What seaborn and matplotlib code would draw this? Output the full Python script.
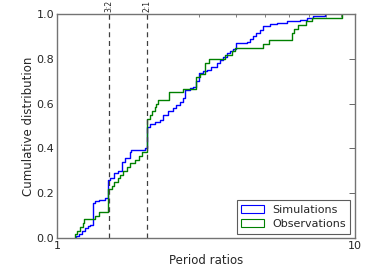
import numpy as np
import matplotlib
matplotlib.use("Agg")
import matplotlib.pyplot as plt
from matplotlib.patches import Patch
from matplotlib.ticker import NullFormatter
import seaborn as sns

# period ratios, with how many systems sit at each value
sim_ratio = [1.16, 1.19, 1.21, 1.24, 1.27, 1.29, 1.32, 1.34, 1.39, 1.45,
             1.49, 1.51, 1.55, 1.61, 1.65, 1.69, 1.76, 1.78, 1.97, 2.00,
             2.05, 2.13, 2.22, 2.27, 2.36, 2.46, 2.52, 2.59, 2.65, 2.69,
             2.80, 2.87, 2.94, 3.00, 3.09, 3.18, 3.30, 3.44, 3.52, 3.61,
             3.71, 3.80, 3.90, 4.00, 4.33, 4.44, 4.56, 4.67, 4.80, 4.92,
             5.18, 5.46, 5.90, 6.54, 6.88, 7.24, 7.93]
sim_count = [2, 2, 2, 3, 2, 1, 19, 2, 1, 2,
             16, 2, 4, 2, 8, 3, 6, 2, 1, 19,
             3, 2, 1, 5, 3, 3, 3, 2, 4, 7,
             2, 1, 5, 7, 2, 1, 3, 3, 3, 3,
             3, 2, 2, 5, 1, 3, 2, 3, 3, 3,
             2, 1, 2, 1, 1, 2, 2]

obs_ratio = [1.15, 1.17, 1.20, 1.22, 1.23, 1.34, 1.38, 1.49, 1.53, 1.56,
             1.60, 1.63, 1.67, 1.72, 1.76, 1.83, 1.88, 1.93, 2.01, 2.06,
             2.09, 2.13, 2.15, 2.18, 2.38, 2.65, 2.94, 3.02, 3.14, 3.24,
             3.66, 3.87, 3.96, 4.91, 5.15, 6.13, 6.24, 6.44, 6.85, 7.16,
             9.05]
obs_count = [1, 1, 1, 1, 1, 1, 1, 6, 1, 1,
             1, 1, 1, 1, 1, 1, 1, 1, 9, 1,
             1, 1, 1, 1, 2, 1, 3, 1, 3, 1,
             1, 1, 1, 1, 1, 2, 1, 1, 1, 1,
             1]

resonances = [1.5, 2.0]
resonance_labels = ["3:2", "2:1"]

sims = np.repeat(sim_ratio, sim_count)
obs = np.repeat(obs_ratio, obs_count)

sns.set_style("white")
plt.rcParams['font.family'] = ['DejaVu Sans']
plt.rcParams['xtick.direction'] = 'in'
plt.rcParams['ytick.direction'] = 'in'
plt.rcParams['xtick.top'] = True
plt.rcParams['ytick.right'] = True

fig = plt.figure(figsize=(3.74, 2.8), dpi=100)
ax = fig.add_axes([0.152, 0.15, 0.797, 0.8])

sns.ecdfplot(x=sims, ax=ax, color='b', lw=1, log_scale=True)
sns.ecdfplot(x=obs, ax=ax, color='g', lw=1)

for r, lab in zip(resonances, resonance_labels):
    ax.axvline(r, color='0.25', ls=(0, (4, 3)), lw=0.9)
    ax.text(r, 1.01, lab, rotation=90, ha='center', va='bottom', fontsize=5.5,
            transform=ax.get_xaxis_transform())

ax.set_xlim(1, 10)
ax.set_ylim(0, 1)
ax.set_xticks([1, 10])
ax.set_xticklabels(["1", "10"])
ax.xaxis.set_minor_formatter(NullFormatter())
ax.set_yticks([0, 0.2, 0.4, 0.6, 0.8, 1.0])
ax.set_yticklabels(["0.0", "0.2", "0.4", "0.6", "0.8", "1.0"])
ax.tick_params(which='major', length=4, width=0.6, labelsize=8, pad=2, color='0.3')
ax.tick_params(which='minor', length=2, width=0.5, color='0.3')
for s in ax.spines.values():
    s.set_color('0.45')
    s.set_linewidth(1)

ax.set_xlabel("Period ratios", fontsize=8.5, labelpad=2)
ax.set_ylabel("Cumulative distribution", fontsize=8.5, labelpad=1)

handles = [Patch(facecolor='white', edgecolor='b', lw=0.8, label='Simulations'),
           Patch(facecolor='white', edgecolor='g', lw=0.8, label='Observations')]
leg = ax.legend(handles=handles, loc='lower right', fontsize=8, fancybox=False,
                frameon=True, borderaxespad=0.4, handlelength=2.0, handletextpad=0.8,
                borderpad=0.4, labelspacing=0.4)
leg.get_frame().set_edgecolor('0.2')
leg.get_frame().set_linewidth(0.8)

fig.savefig("out.png", dpi=100)
